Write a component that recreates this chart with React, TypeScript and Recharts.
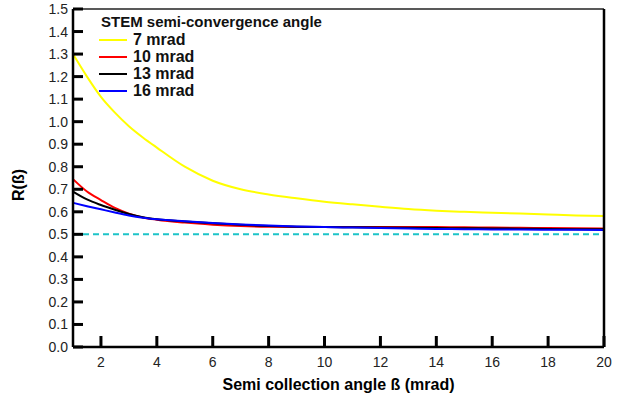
import { LineChart, Line, XAxis, YAxis, ReferenceLine } from 'recharts'

const beta = [1, 1.5, 2, 2.5, 3, 3.5, 4, 5, 6, 7, 8, 9, 10, 11, 12, 13, 14, 15, 16, 17, 18, 19, 20]
const r7 = [1.3, 1.2, 1.11, 1.04, 0.98, 0.93, 0.885, 0.8, 0.738, 0.7, 0.677, 0.66, 0.645, 0.633, 0.622, 0.612, 0.605, 0.6, 0.596, 0.592, 0.588, 0.584, 0.581]
const r10 = [0.745, 0.69, 0.652, 0.617, 0.592, 0.575, 0.565, 0.552, 0.543, 0.537, 0.534, 0.533, 0.533, 0.533, 0.533, 0.533, 0.532, 0.531, 0.53, 0.529, 0.528, 0.527, 0.526]
const r13 = [0.69, 0.655, 0.63, 0.609, 0.59, 0.576, 0.567, 0.557, 0.549, 0.542, 0.537, 0.534, 0.532, 0.531, 0.53, 0.529, 0.528, 0.527, 0.526, 0.525, 0.524, 0.523, 0.522]
const r16 = [0.64, 0.625, 0.611, 0.597, 0.584, 0.574, 0.567, 0.558, 0.55, 0.544, 0.539, 0.535, 0.532, 0.53, 0.528, 0.526, 0.524, 0.523, 0.522, 0.521, 0.52, 0.52, 0.519]

const seriesKeys = ['r7', 'r10', 'r13', 'r16']
const seriesNames = ['7 mrad', '10 mrad', '13 mrad', '16 mrad']
const seriesColors = ['#ffff00', '#ff0000', '#000000', '#0000ff']

const xTicks = [2, 4, 6, 8, 10, 12, 14, 16, 18, 20]
const yTicks = [0, 0.1, 0.2, 0.3, 0.4, 0.5, 0.6, 0.7, 0.8, 0.9, 1.0, 1.1, 1.2, 1.3, 1.4, 1.5]

const data = beta.map((b, i) => ({ b, r7: r7[i], r10: r10[i], r13: r13[i], r16: r16[i] }))

const font = '"Liberation Sans", Arial, sans-serif'

// tick labels; the inward tick marks come from tickLine with a negative tickSize
const YTick = (props: any) => {
  const { x, y, payload } = props
  return (
    <text x={x - 5} y={y} dy={5} textAnchor="end" fontSize={14} fill="#222" fontFamily={font}>
      {Number(payload.value).toFixed(1)}
    </text>
  )
}

const XTick = (props: any) => {
  const { x, y, payload } = props
  return (
    <text x={x} y={y + 20} textAnchor="middle" fontSize={14} fill="#222" fontFamily={font}>
      {payload.value}
    </text>
  )
}

export default function App() {
  return (
    <div style={{ position: 'absolute', left: 0, top: 0, width: 632, height: 400, background: '#fff' }}>
      <LineChart width={632} height={400} data={data} margin={{ top: 9, right: 28, left: 0, bottom: 0 }}>
        <ReferenceLine y={0.5} stroke="#1cc4c8" strokeWidth={2} strokeDasharray="6 4" />
        {seriesKeys.map((k, i) => (
          <Line key={k} type="monotone" dataKey={k} name={seriesNames[i]} stroke={seriesColors[i]} strokeWidth={2} dot={false} isAnimationActive={false} />
        ))}
        <ReferenceLine y={1.5} stroke="#222" strokeWidth={1.5} />
        <ReferenceLine x={20} stroke="#000" strokeWidth={2.5} />
        <XAxis
          dataKey="b"
          type="number"
          domain={[1, 20]}
          ticks={xTicks}
          tick={<XTick />}
          tickSize={-11}
          tickMargin={11}
          tickLine={{ stroke: '#000', strokeWidth: 3 }}
          height={53}
          axisLine={{ stroke: '#000', strokeWidth: 2.5 }}
          label={{
            content: ({ viewBox }: any) => (
              <text x={viewBox.x + viewBox.width / 2} y={viewBox.y + 43} textAnchor="middle" fontSize={16} fontWeight="bold" fontFamily={font} fill="#000">
                Semi collection angle ß (mrad)
              </text>
            ),
          }}
        />
        <YAxis
          type="number"
          domain={[0, 1.5]}
          ticks={yTicks}
          tick={<YTick />}
          tickSize={-10}
          tickMargin={10}
          tickLine={{ stroke: '#000', strokeWidth: 3 }}
          width={73}
          interval={0}
          axisLine={{ stroke: '#000', strokeWidth: 2.5 }}
          label={{
            content: ({ viewBox }: any) => (
              <text transform={`translate(24, ${viewBox.y + viewBox.height / 2 + 7}) rotate(-90)`} textAnchor="middle" fontSize={16} fontWeight="bold" fontFamily={font} fill="#000">
                R(ß)
              </text>
            ),
          }}
        />
      </LineChart>
      <div style={{ position: 'absolute', left: 99, top: 13, fontFamily: font, fontWeight: 'bold', color: '#111' }}>
        <div style={{ fontSize: 15, lineHeight: '18px', marginLeft: 2 }}>STEM semi-convergence angle</div>
        {seriesNames.map((n, i) => (
          <div key={n} style={{ display: 'flex', alignItems: 'center', height: 17 }}>
            <span style={{ width: 28, height: 0, borderTop: `2.5px solid ${seriesColors[i]}`, marginRight: 6 }} />
            <span style={{ fontSize: 16 }}>{n}</span>
          </div>
        ))}
      </div>
    </div>
  )
}
